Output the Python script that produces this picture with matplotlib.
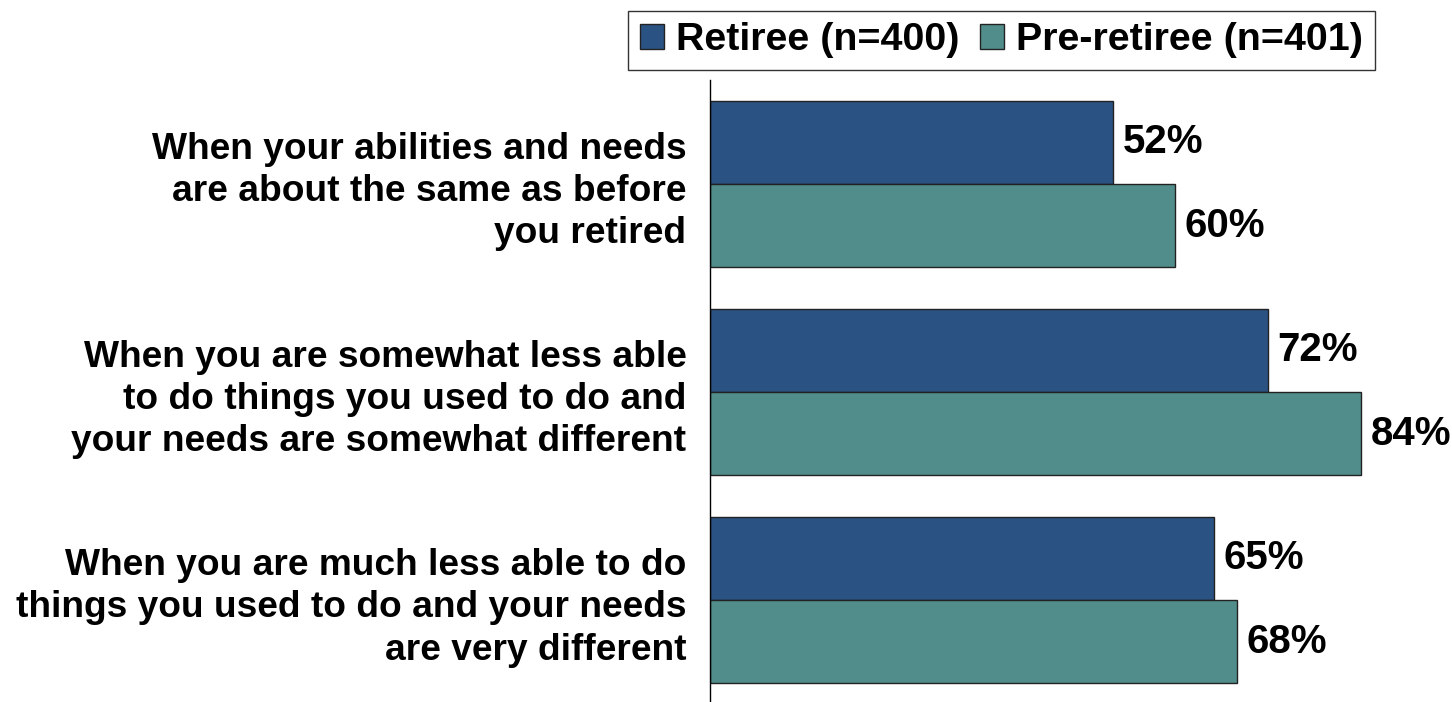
import numpy as np
import matplotlib.pyplot as plt
from matplotlib.patches import Patch

plt.rcParams['font.family'] = ['Liberation Sans', 'DejaVu Sans']
plt.rcParams['font.weight'] = 'bold'

# Survey responses, percent
questions = [
    "When your abilities and needs\nare about the same as before\nyou retired",
    "When you are somewhat less able\nto do things you used to do and\nyour needs are somewhat different",
    "When you are much less able to do\nthings you used to do and your needs\nare very different",
]
retiree = [52, 72, 65]
pre_retiree = [60, 84, 68]
series_names = ["Retiree (n=400)", "Pre-retiree (n=401)"]
colors = ["#2a5283", "#518e8b"]

fig = plt.figure(figsize=(14.52, 7.02), dpi=100)
ax = fig.add_axes([710 / 1452, 0.0, 742 / 1452, 1 - 80 / 702])

y = np.arange(len(questions))
h = 0.4
ax.barh(y - h / 2, retiree, height=h, color=colors[0], edgecolor="#222222", linewidth=1)
ax.barh(y + h / 2, pre_retiree, height=h, color=colors[1], edgecolor="#222222", linewidth=1)

for yi, (a, b) in enumerate(zip(retiree, pre_retiree)):
    ax.text(a + 1.2, yi - h / 2, f"{a}%", ha="left", va="center", fontsize=29, fontweight="bold")
    ax.text(b + 1.2, yi + h / 2, f"{b}%", ha="left", va="center", fontsize=29, fontweight="bold")

ax.set_xlim(0, 95.7)
ax.set_ylim(2.49, -0.5)
ax.set_xticks([])
ax.set_yticks(y)
ax.set_yticklabels(questions, fontsize=26.7, fontweight="bold", linespacing=1.27, ha="right")
ax.tick_params(axis="y", length=0, pad=17)
for s in ["top", "right", "bottom"]:
    ax.spines[s].set_visible(False)
ax.spines["left"].set_linewidth(1)

handles = [Patch(facecolor=c, edgecolor="#222222", linewidth=1) for c in colors]
leg = fig.legend(handles, series_names, loc="center", bbox_to_anchor=(1001.5 / 1452, 1 - 40.5 / 702),
                 ncol=2, frameon=True, fancybox=False, edgecolor="black",
                 prop={"size": 28.4, "weight": "bold"}, handlelength=0.6, handleheight=0.6,
                 handletextpad=0.3, columnspacing=0.53, borderpad=0.3, borderaxespad=0)
leg.get_frame().set_linewidth(1)

fig.savefig("out.png", dpi=100)
